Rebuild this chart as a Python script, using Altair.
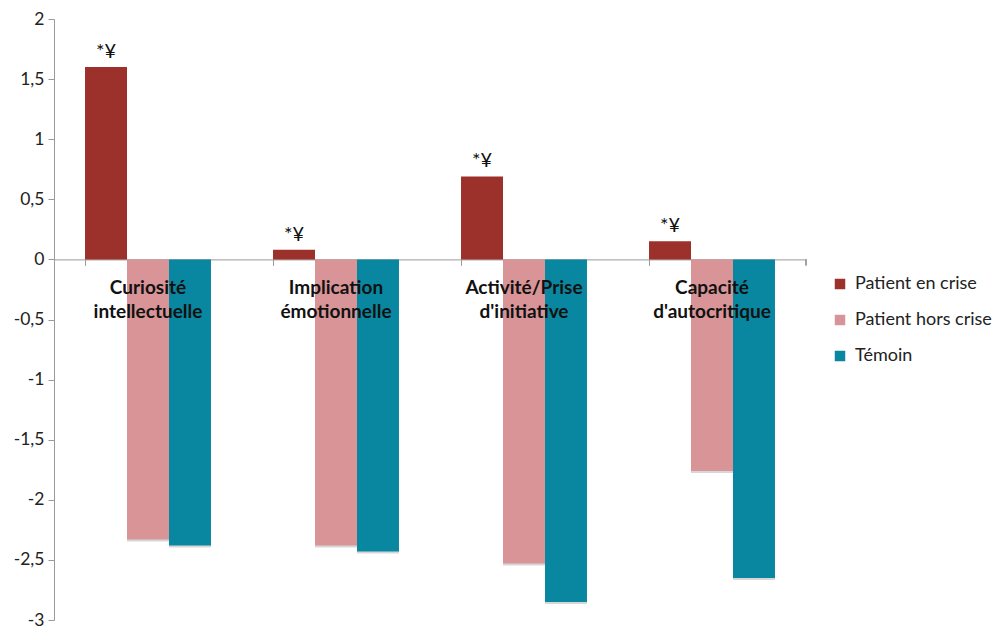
import altair as alt
import pandas as pd

categories = ["Curiosité intellectuelle", "Implication émotionnelle",
              "Activité/Prise d'initiative", "Capacité d'autocritique"]
cat_labels = ["Curiosité\nintellectuelle", "Implication\némotionnelle",
              "Activité/Prise\nd'initiative", "Capacité\nd'autocritique"]
series = ["Patient en crise", "Patient hors crise", "Témoin"]
crise = [1.6, 0.08, 0.69, 0.15]
hors_crise = [-2.33, -2.38, -2.53, -1.76]
temoin = [-2.38, -2.43, -2.85, -2.65]
annot = ["*¥", "*¥", "*¥", "*¥"]
colors = ["#9c302a", "#d99497", "#0a87a0"]
y_ticks = [2, 1.5, 1, 0.5, 0, -0.5, -1, -1.5, -2, -2.5, -3]

rows = []
for s, vals in zip(series, [crise, hors_crise, temoin]):
    for c, v in zip(categories, vals):
        rows.append({"cat": c, "serie": s, "value": v})
df = pd.DataFrame(rows)
df_annot = pd.DataFrame({"cat": categories, "serie": series[0], "value": crise, "txt": annot})
df_lab = pd.DataFrame({"cat": categories, "lab": cat_labels, "zero": [0] * 4})

FONT = "Lato"
W, H = 752, 601
AXC = "#9a9a9a"

xscale = alt.Scale(domain=categories, paddingInner=0.33, paddingOuter=0.165)
xoff = alt.Scale(domain=series, paddingInner=0, paddingOuter=0)
yscale = alt.Scale(domain=[-3, 2], nice=False, zero=False)

x_enc = alt.X("cat:N", scale=xscale, sort=categories,
              axis=alt.Axis(title=None, labels=False, bandPosition=0, orient="bottom",
                            offset=-(H * 3 / 5),
                            domainColor=AXC, tickColor=AXC, tickSize=6))

shadow = alt.Chart(df).mark_bar(color="#000000", opacity=0.16, xOffset=2, yOffset=2).encode(
    x=x_enc,
    xOffset=alt.XOffset("serie:N", scale=xoff, sort=series),
    y=alt.Y("value:Q", scale=yscale),
    y2=alt.datum(0),
)

bars = alt.Chart(df).mark_bar().encode(
    x=x_enc,
    xOffset=alt.XOffset("serie:N", scale=xoff, sort=series),
    y=alt.Y("value:Q", scale=yscale,
            axis=alt.Axis(title=None, values=y_ticks, grid=False,
                          labelExpr="replace(toString(datum.value), '.', ',')",
                          labelFont=FONT, labelFontSize=17.5, labelColor="#222222",
                          domainColor=AXC, tickColor=AXC, tickSize=6, labelPadding=4)),
    y2=alt.datum(0),
    color=alt.Color("serie:N", scale=alt.Scale(domain=series, range=colors), sort=series,
                    legend=alt.Legend(title=None, orient="none", legendX=777, legendY=256,
                                      symbolType="square", symbolSize=110, symbolStrokeWidth=0,
                                      labelFont=FONT, labelFontSize=18, labelColor="#222222",
                                      rowPadding=18, labelOffset=6)),
)

end_tick = alt.Chart(df_lab).mark_rule(color=AXC).encode(
    x=alt.value(W), y=alt.Y("zero:Q", scale=yscale), y2=alt.value(H * 2 / 5 + 6)
)

ann = alt.Chart(df_annot).mark_text(font=FONT, fontSize=20, baseline="bottom", dy=-5, color="#111111").encode(
    x=alt.X("cat:N", scale=xscale, sort=categories),
    xOffset=alt.XOffset("serie:N", scale=xoff, sort=series),
    y=alt.Y("value:Q", scale=yscale),
    text="txt:N",
)

labs = alt.Chart(df_lab).mark_text(font=FONT, fontSize=19, fontWeight="bold", baseline="top",
                                   dy=20, lineBreak="\n", lineHeight=24, color="#111111").encode(
    x=alt.X("cat:N", scale=xscale, sort=categories),
    y=alt.Y("zero:Q", scale=yscale),
    text="lab:N",
)

chart = alt.layer(shadow, bars, end_tick, ann, labs).properties(
    width=W, height=H,
    autosize=alt.AutoSizeParams(type="none"),
    padding={"left": 46, "top": 11, "right": 192, "bottom": 10},
).configure(font=FONT).configure_view(stroke=None)

chart.save("out.html", embed_options={"renderer": "svg", "actions": False})
